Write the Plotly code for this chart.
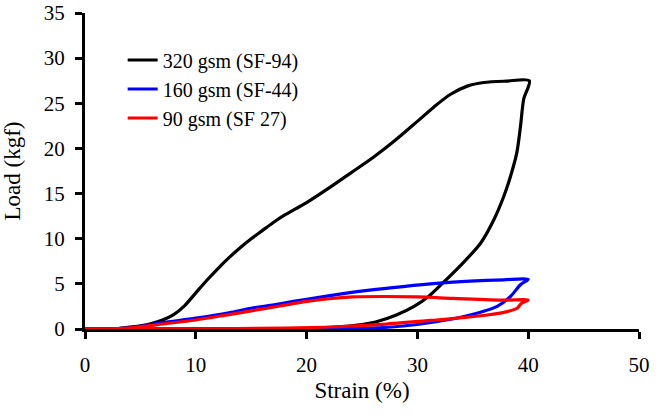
import plotly.graph_objects as go

series_names = ["320 gsm (SF-94)", "160 gsm (SF-44)", "90 gsm (SF 27)"]
series_colors = ["#000000", "#0000ff", "#ff0000"]

strain_320 = [0, 3, 4, 5, 6, 7, 8, 9, 10, 11, 12, 13, 14, 15, 16, 17, 18, 19, 20, 22, 24, 26, 28,
              30, 31.5, 33, 34.5, 36, 38, 40.1,
              39.6, 39.3, 38.97, 38.4, 37.8, 36.9, 35.7, 34.1, 32.3, 31.0, 29.7, 28.1, 26.3, 25, 23, 20, 15, 8, 0]
load_320 = [0, 0.05, 0.2, 0.35, 0.6, 1.0, 1.6, 2.6, 4.0, 5.4, 6.7, 7.9, 9.0, 10.0, 10.9, 11.8, 12.6, 13.3, 14.0, 15.6, 17.3, 19.0, 20.9,
            23.0, 24.6, 26.0, 26.9, 27.3, 27.45, 27.5,
            25.5, 22.4, 19.5, 16.9, 14.7, 12.1, 9.5, 7.3, 5.1, 3.6, 2.5, 1.55, 0.8, 0.5, 0.25, 0.08, 0.02, 0, 0]

strain_160 = [0, 3, 5, 7, 10, 13, 15, 17.6, 20, 22.7, 25.7, 28.7, 31.7, 34.75, 37.8, 40,
              39.3, 38.4, 37.2, 34.75, 31.7, 28.7, 25.7, 20, 10, 0]
load_160 = [0, 0.05, 0.3, 0.7, 1.2, 1.8, 2.3, 2.8, 3.3, 3.8, 4.3, 4.7, 5.05, 5.3, 5.45, 5.5,
            4.9, 3.6, 2.5, 1.55, 0.8, 0.33, 0.1, 0.02, 0, 0]

strain_90 = [0, 3, 5, 7, 10, 13, 15, 17.6, 19.7, 22, 24.2, 27, 30, 33.2, 37.8, 40,
             39.4, 39, 38, 36.3, 34, 31.7, 27.2, 22.7, 18, 10, 0]
load_90 = [0, 0.05, 0.25, 0.55, 1.0, 1.6, 2.0, 2.55, 3.0, 3.35, 3.55, 3.6, 3.55, 3.4, 3.2, 3.2,
           2.85, 2.3, 1.9, 1.55, 1.25, 1.0, 0.55, 0.25, 0.1, 0.03, 0]

x_ticks = [0, 10, 20, 30, 40, 50]
y_ticks = [0, 5, 10, 15, 20, 25, 30, 35]

font_family = "Liberation Serif"

fig = go.Figure()
for name, color, xs, ys in zip(series_names, series_colors,
                               [strain_320, strain_160, strain_90],
                               [load_320, load_160, load_90]):
    fig.add_trace(go.Scatter(x=xs, y=ys, mode="lines", name=name,
                             line=dict(color=color, width=3.2, shape="spline", smoothing=0.8)))

axis_common = dict(showline=True, linecolor="black", linewidth=3, ticks="outside",
                   ticklen=7, tickwidth=3, tickcolor="black", showgrid=False, zeroline=False,
                   tickfont=dict(family=font_family, size=21, color="black"), mirror=False,
                   automargin=False)

fig.update_layout(
    width=656, height=416,
    margin=dict(l=85, r=17, t=13, b=87),
    plot_bgcolor="white", paper_bgcolor="white",
    font=dict(family=font_family, color="black"),
    xaxis=dict(range=[0, 50], tickvals=x_ticks, ticklabelstandoff=8,
               title=dict(text="Strain (%)", font=dict(family=font_family, size=23), standoff=6),
               **axis_common),
    yaxis=dict(range=[0, 35], tickvals=y_ticks, ticklabelstandoff=6,
               title=dict(text="Load (kgf)", font=dict(family=font_family, size=23), standoff=20),
               **axis_common),
    legend=dict(x=0.068, y=0.913, xanchor="left", yanchor="top", bgcolor="rgba(0,0,0,0)",
                font=dict(family=font_family, size=20, color="black"),
                itemwidth=30, tracegroupgap=0),
    showlegend=True,
)

fig.write_html("out.html")
